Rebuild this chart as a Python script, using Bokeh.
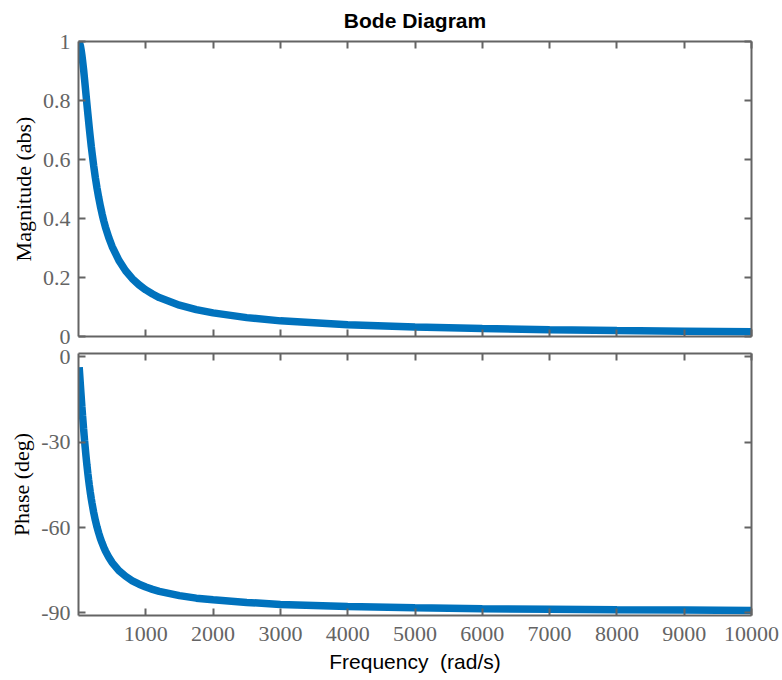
from bokeh.plotting import figure
from bokeh.layouts import column
from bokeh.models import LinearAxis, FixedTicker, Range1d, Title
from bokeh.embed import file_html
from bokeh.resources import INLINE

# Data (first-order low-pass response)
freq = [10, 20, 30, 40, 50, 60, 75, 90, 100, 110, 125, 140, 150, 160, 175, 190, 200,
        225, 250, 275, 300, 325, 350, 375, 400, 450, 500, 600, 700, 800, 900, 1000,
        1100, 1200, 1500, 1750, 2000, 2500, 3000, 4000, 5000, 6000, 7000, 8000,
        9000, 10000]
magnitude = [0.998, 0.992, 0.983, 0.970, 0.954, 0.936, 0.906, 0.872, 0.848, 0.824,
             0.788, 0.753, 0.730, 0.707, 0.675, 0.644, 0.625, 0.580, 0.539, 0.503,
             0.471, 0.442, 0.416, 0.392, 0.371, 0.335, 0.305, 0.258, 0.223, 0.196,
             0.175, 0.158, 0.144, 0.132, 0.106, 0.091, 0.080, 0.064, 0.053, 0.040,
             0.032, 0.027, 0.023, 0.020, 0.018, 0.016]
phase = [-3.6, -7.1, -10.6, -14.0, -17.4, -20.6, -25.1, -29.4, -32.0, -34.5, -38.0,
         -41.2, -43.2, -45.0, -47.6, -49.9, -51.3, -54.6, -57.4, -59.8, -61.9,
         -63.8, -65.4, -66.9, -68.2, -70.4, -72.3, -75.1, -77.1, -78.7, -79.9,
         -80.9, -81.7, -82.4, -83.9, -84.8, -85.4, -86.3, -87.0, -87.7, -88.2,
         -88.5, -88.7, -88.9, -89.0, -89.1]

x_ticks = [1000, 2000, 3000, 4000, 5000, 6000, 7000, 8000, 9000, 10000]
mag_ticks = [0, 0.2, 0.4, 0.6, 0.8, 1]
phase_ticks = [-90, -60, -30, 0]
phase_tick_labels = ["-90", "-60", "-30", "0"]

LINE = "#0072BD"
AX = "#646464"
LBL = "#646464"
SERIF = "Liberation Serif"
SANS = "Liberation Sans"


def style_axis(ax, ticks, labels=True):
    ax.ticker = FixedTicker(ticks=ticks)
    ax.axis_line_color = AX
    ax.axis_line_width = 2
    ax.major_tick_line_color = AX
    ax.major_tick_line_width = 2
    ax.major_tick_in = 7
    ax.major_tick_out = 0
    ax.minor_tick_line_color = None
    if labels:
        ax.major_label_text_font = SERIF
        ax.major_label_text_font_size = "22px"
        ax.major_label_text_color = LBL
    else:
        ax.major_label_text_font_size = "0px"
        ax.major_label_text_alpha = 0
        ax.major_label_standoff = 0


def make_fig(height, yr, yticks, ylabel, top_border, bottom_border, xlabel_visible):
    p = figure(width=782, height=height, output_backend="svg", toolbar_location=None,
               x_range=Range1d(0, 10000), y_range=yr,
               min_border_left=78, min_border_right=31,
               min_border_top=top_border, min_border_bottom=bottom_border)
    p.xgrid.visible = False
    p.ygrid.visible = False
    p.outline_line_color = None
    p.background_fill_color = "white"
    p.border_fill_color = "white"
    # left axis
    style_axis(p.yaxis[0], yticks, labels=True)
    p.yaxis[0].major_label_standoff = 8
    p.yaxis[0].axis_label = ylabel
    p.yaxis[0].axis_label_text_font = SERIF
    p.yaxis[0].axis_label_text_font_size = "22px"
    p.yaxis[0].axis_label_text_font_style = "normal"
    p.yaxis[0].axis_label_text_color = "#000000"
    p.yaxis[0].axis_label_standoff = 4
    # bottom axis
    style_axis(p.xaxis[0], x_ticks, labels=xlabel_visible)
    if xlabel_visible:
        p.xaxis[0].major_label_standoff = 11
        p.xaxis[0].axis_label = "Frequency\u00a0\u00a0(rad/s)"
        p.xaxis[0].axis_label_text_font = SANS
        p.xaxis[0].axis_label_text_font_size = "21px"
        p.xaxis[0].axis_label_text_font_style = "normal"
        p.xaxis[0].axis_label_text_color = "#000000"
        p.xaxis[0].axis_label_standoff = 6
    # top and right axes (ticks only)
    top = LinearAxis()
    style_axis(top, x_ticks, labels=False)
    p.add_layout(top, "above")
    right = LinearAxis()
    style_axis(right, yticks, labels=False)
    p.add_layout(right, "right")
    return p


p1 = make_fig(356, Range1d(0, 1), mag_ticks, "Magnitude (abs)", 41, 20, False)
p1.title = Title(text="Bode Diagram", align="center", text_font=SANS,
                 text_font_size="21px", text_font_style="bold", text_color="#000000",
                 standoff=16, vertical_align="top")
p1.line(freq, magnitude, line_color=LINE, line_width=7.5)

p2 = make_fig(344, Range1d(-90.9, 1.2), phase_ticks, "Phase (deg)", 17, 65, True)
p2.border_fill_alpha = 0
p2.margin = (-20, 0, 0, 0)
p2.yaxis[0].major_label_overrides = {t: s for t, s in zip(phase_ticks, phase_tick_labels)}
p2.line(freq, phase, line_color=LINE, line_width=7.5)

layout = column(p1, p2, spacing=0)
open("out.html", "w").write(file_html(layout, INLINE))
